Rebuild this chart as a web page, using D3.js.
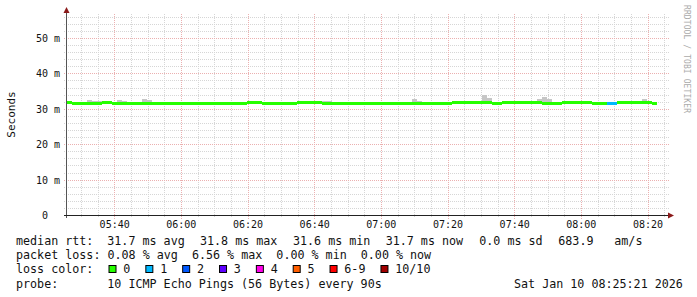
<!DOCTYPE html>
<html>
<head>
<meta charset="utf-8">
<script src="https://cdn.jsdelivr.net/npm/d3@7"></script>
<style>
body{margin:0;background:#fff}
svg{display:block}
text{font-family:"DejaVu Sans Mono",monospace;fill:#111}
</style>
</head>
<body>
<script>
// median rtt per 90s step (ms)
var median=[31.8,31.5,31.5,31.5,31.5,31.5,31.5,31.8,31.8,31.5,31.7,31.7,31.5,
	31.6,31.6,31.6,31.6,31.6,31.6,31.6,31.6,31.6,31.6,31.6,31.6,31.6,31.6,31.6,31.6,31.6,31.6,31.6,31.6,
	31.7,31.7,31.7,31.8,31.8,31.8,31.5,31.6,31.6,31.6,31.6,31.6,31.6,31.8,31.8,31.8,31.8,31.8,31.5,31.5,
	31.7,31.7,31.7,31.7,31.7,31.7,31.7,31.7,31.7,31.7,31.7,31.7,31.5,31.5,31.6,31.6,
	31.7,31.7,31.7,31.7,31.7,31.7,31.5,31.5,31.8,31.8,31.8,31.8,31.8,31.8,31.8,31.8,31.5,31.5,
	31.8,31.8,31.8,31.8,31.8,31.8,31.8,31.8,31.5,31.5,31.7,31.7,31.8,31.8,31.8,31.8,31.8,31.8,
	31.6,31.5,31.5,31.7,31.7,31.8,31.8,31.8,31.8,31.8,31.8,31.8,31.5]
// smoke top / bottom (ms)
var smokeMax=[31.9,31.6,31.6,31.6,32.6,32.3,32.3,31.9,31.9,31.6,32.6,32.3,31.6,31.7,31.7,32.9,32.6,
	31.7,31.7,31.7,31.7,31.7,31.7,31.7,31.7,31.7,31.7,31.7,31.7,31.7,31.7,31.7,31.7,
	32.1,32.1,32.1,31.9,31.9,31.9,31.6,31.7,31.7,31.7,31.7,31.7,31.7,31.9,31.9,31.9,31.9,31.9,32.3,32.3,
	31.8,31.8,31.8,31.8,31.8,31.8,31.8,31.8,31.8,31.8,31.8,31.8,31.6,31.6,31.7,31.7,32.9,32.4,
	31.8,31.8,31.8,31.8,31.6,31.6,31.9,31.9,31.9,31.9,31.9,31.9,34.0,33.3,32.1,31.6,
	31.9,31.9,31.9,31.9,31.9,31.9,31.9,32.9,33.5,32.9,31.8,31.8,31.9,31.9,32.2,31.9,31.9,31.9,
	31.7,32.2,31.6,31.8,31.8,31.9,31.9,31.9,31.9,31.9,32.9,32.4,31.6]
var smokeMin=[31.7,31.4,31.4,31.4,31.4,31.4,31.4,31.7,31.7,31.4,31.6,31.6,31.2,
	31.5,31.5,31.5,31.5,31.5,31.5,31.5,31.5,31.5,31.5,31.5,31.5,31.5,31.5,31.5,31.5,31.5,31.5,31.5,31.5,
	31.6,31.6,31.6,31.7,31.7,31.7,31.2,31.5,31.5,31.5,31.5,31.1,31.4,31.7,31.7,31.7,31.7,31.7,31.4,31.4,
	31.6,31.6,31.6,31.6,31.6,31.6,31.6,31.6,31.6,31.6,31.6,31.6,31.4,31.4,31.5,31.5,
	31.6,31.6,31.6,31.6,31.6,31.6,31.4,31.4,31.7,31.7,31.7,31.7,31.7,31.7,31.7,31.7,31.4,31.4,
	31.7,31.7,31.7,31.7,31.7,31.7,31.7,31.7,31.2,31.2,31.6,31.2,31.7,31.7,31.7,31.7,31.7,31.7,
	31.5,31.4,31.3,31.6,31.6,31.7,31.7,31.7,31.7,31.7,31.7,31.7,31.4]
// lost pings (of 10) per step
var loss=[0,0,0,0,0,0,0,0,0,0,0,0,0,0,0,0,0,0,0,0,0,0,0,0,0,0,0,0,0,0,
	0,0,0,0,0,0,0,0,0,0,0,0,0,0,0,0,0,0,0,0,0,0,0,0,0,0,0,0,0,0,
	0,0,0,0,0,0,0,0,0,0,0,0,0,0,0,0,0,0,0,0,0,0,0,0,0,0,0,0,0,0,
	0,0,0,0,0,0,0,0,0,0,0,0,0,0,0,0,0,0,1,1,0,0,0,0,0,0,0,0]

var yTicks=[0,10,20,30,40,50],
	yTickLabels=["0","10 m","20 m","30 m","40 m","50 m"]

var lossLabels=["0","1","2","3","4","5","6-9","10/10"],
	lossColors=["#26ff00","#00b8ff","#0059ff","#5e00ff","#ff00ea","#ff5e00","#ff0000","#a10000"]

var rttLabel="median rtt:",
	rttStats=["31.7 ms avg","31.8 ms max","31.6 ms min","31.7 ms now","0.0 ms sd","683.9","am/s"],
	lossLine="packet loss: 0.08 % avg  6.56 % max  0.00 % min  0.00 % now",
	probeText="10 ICMP Echo Pings (56 Bytes) every 90s",
	dateText="Sat Jan 10 08:25:21 2026"

var START=Date.UTC(2026,0,10,5,25,42),
	STEP=90*1000

var W=697,H=297,
	L=67,R=667,T=13.5,B=215.5

var xScale=d3.scaleUtc()
	.domain([new Date(START),new Date(START+180*60*1000)])
	.range([L,R])
var yScale=d3.scaleLinear()
	.domain([0,57.06])
	.range([B,T])

var svg=d3.select('body').append('svg')
	.attr('width',W).attr('height',H)

function px(v){return Math.floor(v)+0.5}

var minorCol='#d6d6d6',majorCol='#ebb0b0'

// grid
var grid=svg.append('g').attr('shape-rendering','crispEdges')
d3.range(0,57,2).forEach(function(v){
	if(v%10==0) return
	grid.append('line')
		.attr('x1',64).attr('x2',669)
		.attr('y1',px(yScale(v))).attr('y2',px(yScale(v)))
		.attr('stroke',minorCol).attr('stroke-dasharray','1,1')
})
xScale.ticks(d3.utcMinute.every(5)).forEach(function(t){
	if(t.getUTCMinutes()%20==0) return
	grid.append('line')
		.attr('x1',px(xScale(t))).attr('x2',px(xScale(t)))
		.attr('y1',T).attr('y2',218)
		.attr('stroke',minorCol).attr('stroke-dasharray','1,1')
})
yTicks.forEach(function(v){
	if(v==0) return
	grid.append('line')
		.attr('x1',64).attr('x2',669)
		.attr('y1',px(yScale(v))).attr('y2',px(yScale(v)))
		.attr('stroke',majorCol).attr('stroke-dasharray','1,1')
})
var majors=xScale.ticks(d3.utcMinute.every(20))
majors.forEach(function(t){
	grid.append('line')
		.attr('x1',px(xScale(t))).attr('x2',px(xScale(t)))
		.attr('y1',T).attr('y2',219)
		.attr('stroke',majorCol).attr('stroke-dasharray','1,1')
})

// smoke + median
var steps=median.map(function(m,i){
	return {t0:new Date(START+i*STEP),t1:new Date(START+(i+1)*STEP),
		m:m,hi:smokeMax[i],lo:smokeMin[i],loss:loss[i]}
})
svg.append('g').selectAll('rect').data(steps).enter().append('rect')
	.attr('x',function(d){return xScale(d.t0)})
	.attr('width',function(d){return xScale(d.t1)-xScale(d.t0)})
	.attr('y',function(d){return Math.round(yScale(d.hi))})
	.attr('height',function(d){return Math.round(yScale(d.lo))-Math.round(yScale(d.hi))})
	.attr('fill','#c6c6c6')
svg.append('g').selectAll('rect').data(steps).enter().append('rect')
	.attr('x',function(d){return xScale(d.t0)})
	.attr('width',function(d){return xScale(d.t1)-xScale(d.t0)})
	.attr('y',function(d){return Math.round(yScale(d.m)-1.5)})
	.attr('height',3)
	.attr('fill',function(d){
		var k=d.loss==0?0:d.loss<=5?d.loss:d.loss<10?6:7
		return lossColors[k]
	})

// axes
svg.append('line').attr('x1',66.5).attr('x2',66.5).attr('y1',218).attr('y2',11)
	.attr('stroke','#555')
svg.append('line').attr('x1',64).attr('x2',670).attr('y1',215.5).attr('y2',215.5)
	.attr('stroke','#222')
svg.append('path').attr('d','M63.5,13 L69.5,13 L66.5,7 Z').attr('fill','#8b1a1a')
svg.append('path').attr('d','M668,212.5 L668,218.5 L674,215.5 Z').attr('fill','#8b1a1a')

svg.append('g').selectAll('text').data(yTicks).enter().append('text')
	.attr('x',function(d){return d==0?48:60})
	.attr('y',function(d){return yScale(d)+3.5})
	.attr('text-anchor','end')
	.style('font-size','10px')
	.text(function(d,i){return yTickLabels[i]})

svg.append('g').selectAll('text').data(majors).enter().append('text')
	.attr('x',function(d){return xScale(d)})
	.attr('y',228)
	.attr('text-anchor','middle')
	.style('font-size','10px')
	.text(d3.utcFormat('%H:%M'))

svg.append('text')
	.attr('transform','translate(15,114.5) rotate(-90)')
	.attr('text-anchor','middle')
	.style('font-size','11px')
	.text('Seconds')

svg.append('text')
	.attr('transform','translate(683.5,5) rotate(90)')
	.attr('textLength',108)
	.style('font-size','8px')
	.style('fill','#aaaaaa')
	.text('RRDTOOL / TOBI OETIKER')

// legend
var fs='11.7px'
function put(x,y,s){
	return svg.append('text').attr('x',x).attr('y',y).style('font-size',fs)
		.attr('xml:space','preserve').text(s)
}
put(16,245,rttLabel)
var rttX=[107.3,200,293,385.7,479.3,558.3,614.3]
rttStats.forEach(function(s,i){put(rttX[i],245,s)})
put(16,259.2,lossLine)
put(16,273.4,'loss color:')
var sx=108.5
lossLabels.forEach(function(s,i){
	svg.append('rect').attr('x',sx+0.5).attr('y',265.5).attr('width',7).attr('height',7)
		.attr('fill',lossColors[i]).attr('stroke','#000')
	put(sx+14.8,273.4,s)
	sx+=14.8+s.length*7.04+15
})
put(16,287.6,'probe:')
put(107.3,287.6,probeText)
put(514,287.6,dateText)
</script>
</body>
</html>
